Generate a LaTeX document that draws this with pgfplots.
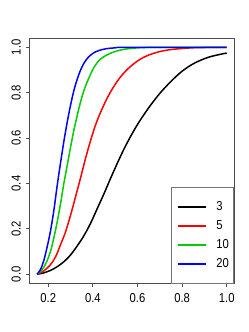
\documentclass[border=0pt]{standalone}
\usepackage{pgfplots}
\pgfplotsset{compat=1.18}
\usepackage{fontspec}
\setmainfont{Liberation Sans}[FakeStretch=0.87]
\definecolor{rgreen}{RGB}{0,205,0}
\definecolor{rred}{RGB}{255,0,0}
\definecolor{rblue}{RGB}{0,0,255}
\begin{document}
\fontsize{13}{16}\selectfont
\begin{tikzpicture}
\begin{axis}[
  scale only axis, width=204.8bp, height=245bp,
  xmin=0.116, xmax=1.034, ymin=-0.04, ymax=1.04,
  axis line style={black!70, line width=0.8bp},
  tick style={black!70, line width=0.8bp},
  tick align=outside, major tick length=3.5bp,
  xtick={0.2,0.4,0.6,0.8,1.0}, xticklabels={0.2,0.4,0.6,0.8,1.0},
  ytick={0,0.2,0.4,0.6,0.8,1.0}, yticklabels={0.0,0.2,0.4,0.6,0.8,1.0},
  xtick pos=bottom, ytick pos=left,
  every tick label/.append style={font=\fontsize{13}{16}\selectfont},
  xticklabel style={anchor=north, inner xsep=0pt, inner ysep=6bp},
  yticklabel style={rotate=90, anchor=south, inner xsep=0pt, inner ysep=5bp},
  legend style={at={(1,0)}, anchor=south east, draw=black!55, line width=0.8bp,
    fill=white, inner xsep=5bp, inner ysep=9.5bp, column sep=10bp, row sep=0pt,
    font=\fontsize{13}{16}\selectfont,
    nodes={inner sep=0pt, minimum height=19bp}},
  legend cell align=left,
  legend image code/.code={\path (0bp,0bp) -- (6bp,0bp); \draw[#1] (6bp,0bp) -- (28bp,0bp);},
  every axis plot/.append style={line width=1.5bp, smooth},
]
\addplot[black] coordinates {(0.15,0) (0.18,0.006) (0.21,0.017) (0.24,0.033) (0.27,0.055) (0.30,0.085) (0.33,0.125) (0.36,0.17) (0.39,0.225) (0.42,0.29) (0.45,0.355) (0.48,0.424) (0.51,0.49) (0.54,0.553) (0.57,0.609) (0.60,0.66) (0.63,0.705) (0.66,0.747) (0.70,0.797) (0.74,0.84) (0.77,0.869) (0.80,0.895) (0.84,0.922) (0.88,0.942) (0.92,0.957) (0.96,0.967) (1.0,0.975)};
\addlegendentry{3}
\addplot[rred] coordinates {(0.15,0) (0.18,0.015) (0.21,0.042) (0.233,0.077) (0.255,0.13) (0.277,0.185) (0.30,0.26) (0.322,0.34) (0.345,0.425) (0.367,0.51) (0.39,0.59) (0.411,0.655) (0.433,0.71) (0.456,0.76) (0.48,0.805) (0.501,0.838) (0.52,0.865) (0.54,0.888) (0.56,0.908) (0.58,0.925) (0.60,0.94) (0.62,0.952) (0.65,0.966) (0.694,0.98) (0.74,0.989) (0.80,0.995) (0.87,0.999) (1.0,1.0)};
\addlegendentry{5}
\addplot[rgreen] coordinates {(0.15,0) (0.165,0.012) (0.18,0.03) (0.195,0.06) (0.21,0.1) (0.225,0.16) (0.24,0.23) (0.255,0.31) (0.27,0.4) (0.285,0.48) (0.30,0.56) (0.315,0.635) (0.33,0.7) (0.345,0.76) (0.36,0.81) (0.38,0.86) (0.404,0.91) (0.43,0.945) (0.46,0.965) (0.5,0.982) (0.55,0.993) (0.62,0.999) (0.7,1.0) (1.0,1.0)};
\addlegendentry{10}
\addplot[rblue] coordinates {(0.15,0) (0.165,0.02) (0.18,0.06) (0.195,0.12) (0.21,0.19) (0.225,0.28) (0.24,0.39) (0.255,0.49) (0.27,0.585) (0.285,0.67) (0.30,0.745) (0.315,0.81) (0.33,0.86) (0.345,0.9) (0.36,0.93) (0.38,0.957) (0.404,0.976) (0.43,0.987) (0.46,0.994) (0.5,0.998) (0.55,1.0) (1.0,1.0)};
\addlegendentry{20}
\coordinate (bl) at (rel axis cs:0,0);
\coordinate (tr) at (rel axis cs:1,1);
\end{axis}
\pgfresetboundingbox
\path[use as bounding box] ([shift={(-29.5bp,-48.7bp)}]bl) rectangle ([shift={(14.7bp,38.3bp)}]tr);
\end{tikzpicture}
\end{document}
